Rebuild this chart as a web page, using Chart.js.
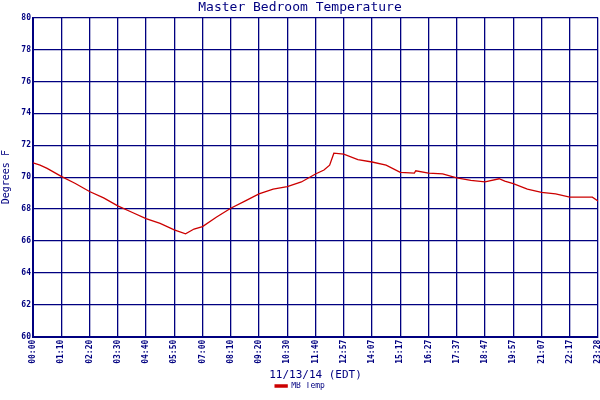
<!DOCTYPE html>
<html>
<head>
<script src="https://cdn.jsdelivr.net/npm/chart.js@4"></script>
<style>
  body { margin: 0; background: #fff; }
  #wrap { width: 600px; height: 400px; }
</style>
</head>
<body>
<div id="wrap"><canvas id="c"></canvas></div>
<script>
// tick labels on the x grid (one per grid line)
const tickLabels = ['00:00','01:10','02:20','03:30','04:40','05:50','07:00','08:10','09:20','10:30',
  '11:40','12:57','14:07','15:17','16:27','17:37','18:47','19:57','21:07','22:17','23:28'];
// position in grid units, temperature in F
const pos = [0,0.25,0.5,0.75,1,1.5,2,2.5,3,3.5,4,4.5,5,5.4,5.7,6,6.5,7,7.5,8,8.5,9,9.5,10,10.3,10.5,10.65,11,11.5,12,12.5,13,13.5,13.55,14,14.5,15,15.5,16,16.5,16.7,17,17.5,18,18.5,19,19.5,19.8,20];
const temp = [70.9,70.75,70.55,70.3,70.05,69.6,69.1,68.7,68.2,67.8,67.4,67.1,66.7,66.45,66.75,66.9,67.5,68.05,68.5,68.95,69.25,69.4,69.7,70.2,70.45,70.75,71.5,71.45,71.1,70.95,70.75,70.3,70.25,70.4,70.25,70.2,69.95,69.8,69.7,69.9,69.75,69.6,69.25,69.05,68.95,68.75,68.75,68.75,68.5];
const yTicks = [60,62,64,66,68,70,72,74,76,78,80];

const navy = '#000080';
const mono = 'DejaVu Sans Mono';

new Chart(document.getElementById('c'), {
  type: 'line',
  data: {
    datasets: [{
      label: 'MB Temp',
      data: pos.map((p, i) => ({ x: p, y: temp[i] })),
      borderColor: '#cc0000', backgroundColor: '#cc0000',
      borderWidth: 1.3, pointRadius: 0
    }]
  },
  options: {
    responsive: true, maintainAspectRatio: false, animation: false,
    layout: { padding: { right: 0, top: 0, bottom: 0 } },
    plugins: {
      title: { display: true, text: 'Master Bedroom Temperature', color: navy,
        font: { family: mono, size: 13, weight: 'normal' }, padding: { top: 0, bottom: 2 } },
      legend: { position: 'bottom', labels: { color: navy, font: { family: mono, size: 8 },
        boxWidth: 12, boxHeight: 2, padding: 0 } }
    },
    scales: {
      x: {
        type: 'linear', min: 0, max: 20,
        afterBuildTicks: a => { a.ticks = tickLabels.map((_, i) => ({ value: i })); },
        afterFit: a => { a.paddingRight = 2; },
        ticks: { color: navy, font: { family: mono, size: 8, weight: 'bold' }, autoSkip: false,
          maxRotation: 90, minRotation: 90, callback: v => tickLabels[v], padding: 3 },
        grid: { color: navy, lineWidth: 1.3, drawTicks: false },
        border: { color: navy, width: 2 },
        title: { display: true, text: '11/13/14 (EDT)', color: navy, font: { family: mono, size: 11 }, padding: { top: 2, bottom: 0 } }
      },
      y: {
        min: 60, max: 80,
        afterBuildTicks: a => { a.ticks = yTicks.map(v => ({ value: v })); },
        afterFit: a => { a.width = 33; },
        ticks: { color: navy, font: { family: mono, size: 8, weight: 'bold' }, padding: 2 },
        grid: { color: navy, lineWidth: 1.3, drawTicks: false },
        border: { color: navy, width: 2 },
        title: { display: true, text: 'Degrees F', color: navy, font: { family: mono, size: 10 }, padding: 0 }
      }
    }
  }
});
</script>
</body>
</html>
